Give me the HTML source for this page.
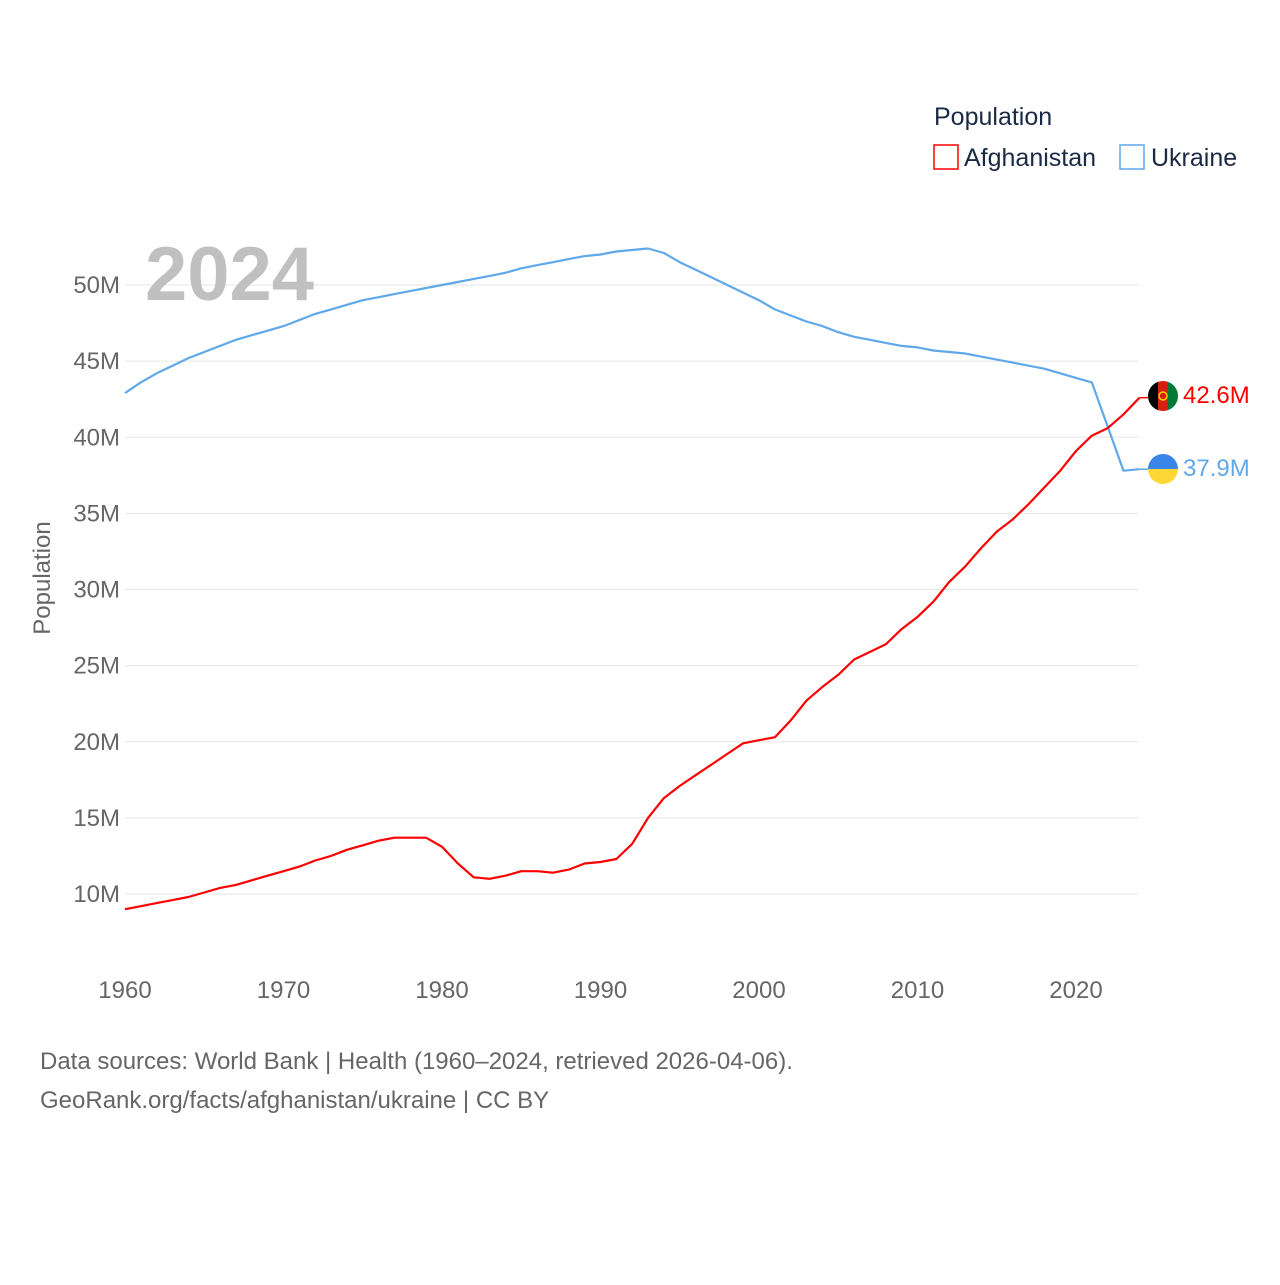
<!DOCTYPE html>
<html><head><meta charset="utf-8"><style>
body{margin:0;background:#fff;font-family:"Liberation Sans",sans-serif}
svg text{font-family:"Liberation Sans",sans-serif}
</style></head><body>
<svg id="chart" width="1280" height="1280" viewBox="0 0 1280 1280">
<g id="grid"></g>
<g id="yticks"></g>
<g id="xticks"></g>
<text x="145" y="300" font-size="76" font-weight="bold" fill="#c0c0c0">2024</text>
<text transform="translate(50,578) rotate(-90)" text-anchor="middle" font-size="24" fill="#666">Population</text>
<g id="series"></g>
<g>
<text x="934" y="125" font-size="25" fill="#1a2a44">Population</text>
<g><rect x="934" y="145" width="24" height="24" fill="none" stroke="#f00" stroke-width="1.5"/><text x="964" y="166" font-size="25" fill="#1a2a44">Afghanistan</text></g>
<g><rect x="1120" y="145" width="24" height="24" fill="none" stroke="#5fa8ea" stroke-width="1.5"/><text x="1151" y="166" font-size="25" fill="#1a2a44">Ukraine</text></g>
</g>
<g>
<g><clipPath id="c1"><circle cx="1163" cy="396" r="15"/></clipPath><g clip-path="url(#c1)"><rect x="1148" y="381" width="10" height="30" fill="#000"/><rect x="1158" y="381" width="10" height="30" fill="#d32011"/><rect x="1168" y="381" width="10" height="30" fill="#007a36"/></g><circle cx="1163" cy="396" r="4" fill="none" stroke="#fc0" stroke-width="1.5"/></g>
<text x="1183" y="403" font-size="24" fill="#f00">42.6M</text>
<g><clipPath id="c2"><circle cx="1163" cy="469" r="15"/></clipPath><g clip-path="url(#c2)"><rect x="1148" y="454" width="30" height="15" fill="#3a86e8"/><rect x="1148" y="469" width="30" height="15" fill="#fdd835"/></g></g>
<text x="1183" y="476" font-size="24" fill="#5fa8ea">37.9M</text>
</g>
<text x="40" y="1069" font-size="24" fill="#666">Data sources: World Bank | Health (1960–2024, retrieved 2026-04-06).</text>
<text x="40" y="1108" font-size="24" fill="#666">GeoRank.org/facts/afghanistan/ukraine | CC BY</text>
</svg>
<script>
const years=[];for(let y=1960;y<=2024;y++)years.push(y);
const afghanistan=[9.0,9.2,9.4,9.6,9.8,10.1,10.4,10.6,10.9,11.2,11.5,11.8,12.2,12.5,12.9,13.2,13.5,13.7,13.7,13.7,13.1,12.0,11.1,11.0,11.2,11.5,11.5,11.4,11.6,12.0,12.1,12.3,13.3,15.0,16.3,17.1,17.8,18.5,19.2,19.9,20.1,20.3,21.4,22.7,23.6,24.4,25.4,25.9,26.4,27.4,28.2,29.2,30.5,31.5,32.7,33.8,34.6,35.6,36.7,37.8,39.1,40.1,40.6,41.5,42.6];
const ukraine=[42.9,43.6,44.2,44.7,45.2,45.6,46.0,46.4,46.7,47.0,47.3,47.7,48.1,48.4,48.7,49.0,49.2,49.4,49.6,49.8,50.0,50.2,50.4,50.6,50.8,51.1,51.3,51.5,51.7,51.9,52.0,52.2,52.3,52.4,52.1,51.5,51.0,50.5,50.0,49.5,49.0,48.4,48.0,47.6,47.3,46.9,46.6,46.4,46.2,46.0,45.9,45.7,45.6,45.5,45.3,45.1,44.9,44.7,44.5,44.2,43.9,43.6,40.7,37.8,37.9];
const yTicks=[10,15,20,25,30,35,40,45,50];
const xTicks=[1960,1970,1980,1990,2000,2010,2020];
const X=y=>125+(y-1960)*951/60;
const Y=v=>894-(v-10)*609/40;
const NS="http://www.w3.org/2000/svg";
function mk(t,a,p){const e=document.createElementNS(NS,t);for(const k in a)e.setAttribute(k,a[k]);p.appendChild(e);return e;}
const grid=document.getElementById('grid'),yt=document.getElementById('yticks'),xt=document.getElementById('xticks'),se=document.getElementById('series');
yTicks.forEach(v=>{
 const l=mk('line',{x1:125,x2:1138,y1:Y(v),y2:Y(v),stroke:'#e6e6e6','stroke-width':1},grid);
 
 
 const t=mk('text',{x:120,y:Y(v)+8,'text-anchor':'end','font-size':24,fill:'#666'},yt);t.textContent=v+'M';
 
 
});
xTicks.forEach(v=>{
 const t=mk('text',{x:X(v),y:998,'text-anchor':'middle','font-size':24,fill:'#666'},xt);t.textContent=v;
 
 
});
function line(vals,col,name){
 const d=vals.map((v,i)=>(i?'L':'M')+X(years[i]).toFixed(1)+','+Y(v).toFixed(1)).join('');
 const p=mk('path',{d:d,fill:'none',stroke:col,'stroke-width':2.2,'stroke-linejoin':'round'},se);
 
 
 const last=vals[vals.length-1];
 const c=mk('line',{x1:X(2024),x2:1148,y1:Y(last),y2:Y(last),stroke:col,'stroke-width':1.5},se);
 
 
}
line(ukraine,'#5fa8ea','ukraine-line');
line(afghanistan,'#ff0000','afghanistan-line');
</script>
</body></html>
